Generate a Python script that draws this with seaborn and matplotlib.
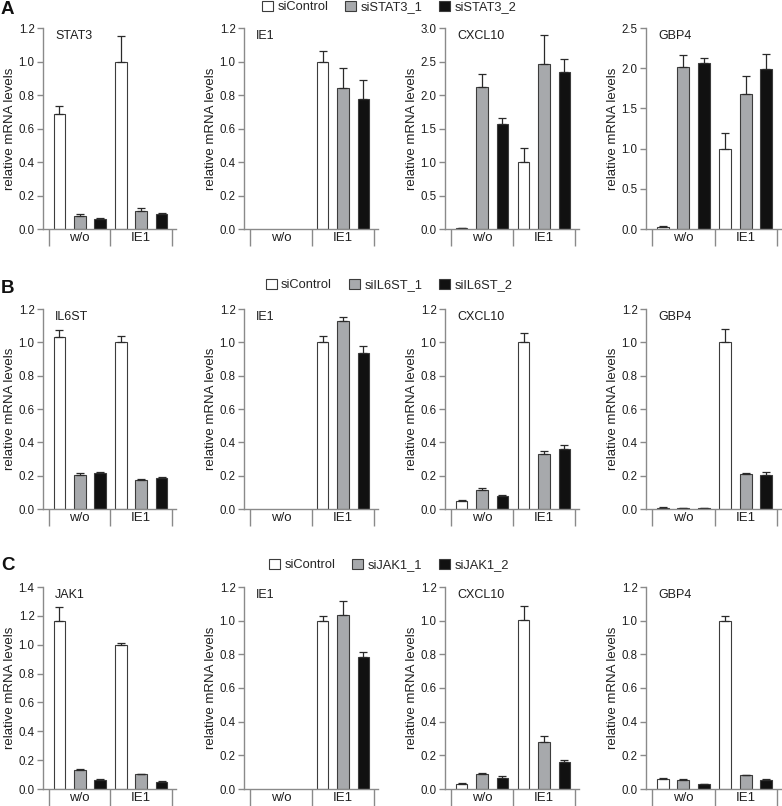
import numpy as np
import pandas as pd
import seaborn as sns
import matplotlib.pyplot as plt
from matplotlib.patches import Patch

# --- data ---
groups = ["w/o", "IE1"]
sirna_a = ["siControl", "siSTAT3_1", "siSTAT3_2"]
sirna_b = ["siControl", "siIL6ST_1", "siIL6ST_2"]
sirna_c = ["siControl", "siJAK1_1", "siJAK1_2"]
genes_a = ["STAT3", "IE1", "CXCL10", "GBP4"]
genes_b = ["IL6ST", "IE1", "CXCL10", "GBP4"]
genes_c = ["JAK1", "IE1", "CXCL10", "GBP4"]

# one row per siRNA, columns = w/o, IE1
a_stat3 = [[0.687, 1.000], [0.080, 0.107], [0.060, 0.090]]
a_stat3_err = [[0.045, 0.150], [0.008, 0.016], [0.003, 0.005]]
a_ie1 = [[0.0, 1.000], [0.0, 0.842], [0.0, 0.776]]
a_ie1_err = [[0.0, 0.062], [0.0, 0.118], [0.0, 0.116]]
a_cxcl10 = [[0.010, 1.000], [2.12, 2.46], [1.56, 2.35]]
a_cxcl10_err = [[0.005, 0.21], [0.20, 0.44], [0.09, 0.19]]
a_gbp4 = [[0.025, 1.000], [2.02, 1.68], [2.06, 1.99]]
a_gbp4_err = [[0.012, 0.195], [0.15, 0.22], [0.07, 0.19]]

b_il6st = [[1.031, 1.000], [0.203, 0.173], [0.219, 0.187]]
b_il6st_err = [[0.044, 0.040], [0.012, 0.008], [0.006, 0.006]]
b_ie1 = [[0.0, 1.000], [0.0, 1.130], [0.0, 0.935]]
b_ie1_err = [[0.0, 0.040], [0.0, 0.025], [0.0, 0.045]]
b_cxcl10 = [[0.050, 1.000], [0.115, 0.328], [0.080, 0.360]]
b_cxcl10_err = [[0.004, 0.059], [0.010, 0.018], [0.004, 0.024]]
b_gbp4 = [[0.008, 1.000], [0.006, 0.209], [0.007, 0.205]]
b_gbp4_err = [[0.003, 0.080], [0.002, 0.010], [0.002, 0.016]]

c_jak1 = [[1.164, 1.000], [0.132, 0.102], [0.062, 0.051]]
c_jak1_err = [[0.095, 0.012], [0.005, 0.004], [0.004, 0.005]]
c_ie1 = [[0.0, 1.000], [0.0, 1.032], [0.0, 0.786]]
c_ie1_err = [[0.0, 0.028], [0.0, 0.085], [0.0, 0.026]]
c_cxcl10 = [[0.032, 1.002], [0.089, 0.282], [0.063, 0.159]]
c_cxcl10_err = [[0.003, 0.083], [0.008, 0.033], [0.012, 0.012]]
c_gbp4 = [[0.062, 1.000], [0.052, 0.081], [0.028, 0.052]]
c_gbp4_err = [[0.003, 0.030], [0.008, 0.004], [0.002, 0.006]]

ymax_a = [1.2, 1.2, 3.0, 2.5]
ymax_b = [1.2, 1.2, 1.2, 1.2]
ymax_c = [1.4, 1.2, 1.2, 1.2]
ystep_a = [0.2, 0.2, 0.5, 0.5]
ystep_b = [0.2, 0.2, 0.2, 0.2]
ystep_c = [0.2, 0.2, 0.2, 0.2]

bar_colors = ["#ffffff", "#a7a9ac", "#111111"]
edge = "#3c3c3c"
axis_gray = "#8a8a8a"
txt = "#1e1e1e"

sns.set_style("ticks")
plt.rcParams["font.family"] = ["Liberation Sans", "DejaVu Sans"]

W, H = 782, 806
fig = plt.figure(figsize=(W / 100, H / 100), dpi=100)

# pixel geometry of the panels
col_left = [49, 250, 451, 652]     # first group divider
col_right = [172, 374, 575, 777]   # last group divider
row_top = [28, 309, 587]
row_zero = [229, 509, 789]
gw = 61.7  # pixels per group


def draw_panel(ax, gene, names, means, errs, top, step):
    rows = []
    for k, name in enumerate(names):
        for j, g in enumerate(groups):
            rows.append({"treatment": g, "siRNA": name, "level": means[k][j]})
    df = pd.DataFrame(rows)
    sns.barplot(data=df, x="treatment", y="level", hue="siRNA",
                order=groups, hue_order=names, palette=bar_colors,
                saturation=1, width=0.99, gap=0.42, errorbar=None,
                edgecolor=edge, linewidth=0.8, legend=False, ax=ax)
    bar_sets = list(ax.containers)
    for k, cont in enumerate(bar_sets):
        for j, bar in enumerate(cont):
            h = bar.get_height()
            if h == 0:
                bar.set_visible(False)
                continue
            x = bar.get_x() + bar.get_width() / 2
            ax.errorbar(x, h, yerr=[[0], [errs[k][j]]], fmt="none",
                        ecolor="#2a2a2a", elinewidth=0.9, capsize=2.6,
                        capthick=0.9, zorder=1)

    ax.set_xlim(-0.5 - 6 / gw, 1.5 + 4 / gw)
    ax.set_ylim(0, top)
    ticks = np.arange(0, top + 1e-9, step)
    ax.set_yticks(ticks)
    ax.set_yticklabels([f"{t:.1f}" for t in ticks])
    ax.set_xticks([0, 1])
    ax.set_xticklabels(groups)
    ax.set_xticks([-0.5, 0.5, 1.5], minor=True)
    ax.tick_params(axis="x", which="major", length=0, pad=2, labelsize=9.5,
                   labelcolor=txt)
    ax.tick_params(axis="x", which="minor", length=12, width=1,
                   color=axis_gray, direction="out")
    ax.tick_params(axis="y", length=4, width=1, color=axis_gray, pad=2,
                   labelsize=8.3, labelcolor=txt)
    for s in ["top", "right"]:
        ax.spines[s].set_visible(False)
    for s in ["left", "bottom"]:
        ax.spines[s].set_color(axis_gray)
        ax.spines[s].set_linewidth(1)
    ax.set_xlabel("")
    ax.set_ylabel("relative mRNA levels", fontsize=9.5, color=txt, labelpad=2)
    ax.annotate(gene, xy=(0, 1), xycoords="axes fraction", xytext=(12, -2),
                textcoords="offset pixels", ha="left", va="top",
                fontsize=9, color=txt)


panel_rows = [
    ("A", sirna_a, genes_a, [a_stat3, a_ie1, a_cxcl10, a_gbp4],
     [a_stat3_err, a_ie1_err, a_cxcl10_err, a_gbp4_err], ymax_a, ystep_a, 7, 1),
    ("B", sirna_b, genes_b, [b_il6st, b_ie1, b_cxcl10, b_gbp4],
     [b_il6st_err, b_ie1_err, b_cxcl10_err, b_gbp4_err], ymax_b, ystep_b, 285, 280),
    ("C", sirna_c, genes_c, [c_jak1, c_ie1, c_cxcl10, c_gbp4],
     [c_jak1_err, c_ie1_err, c_cxcl10_err, c_gbp4_err], ymax_c, ystep_c, 565, 557),
]

for r, (letter, names, genes, means, errs, tops, steps, leg_y, let_y) in enumerate(panel_rows):
    for c in range(4):
        x0 = col_left[c] - 6
        x1 = col_right[c] + 4
        ax = fig.add_axes([x0 / W, 1 - row_zero[r] / H,
                           (x1 - x0) / W, (row_zero[r] - row_top[r]) / H])
        draw_panel(ax, genes[c], names, means[c], errs[c], tops[c], steps[c])

    handles = [Patch(facecolor=col, edgecolor=edge, linewidth=0.8)
               for col in bar_colors]
    fig.legend(handles, names, loc="center", bbox_to_anchor=(389 / W, 1 - leg_y / H),
               ncol=3, frameon=False, fontsize=9.3, handlelength=0.85,
               handleheight=0.85, handletextpad=0.35, columnspacing=1.3,
               borderaxespad=0, borderpad=0)
    fig.text(1 / W, 1 - let_y / H, letter, fontsize=13.5, fontweight="bold",
             ha="left", va="top", color="#111111")

fig.savefig("out.png", dpi=100)
